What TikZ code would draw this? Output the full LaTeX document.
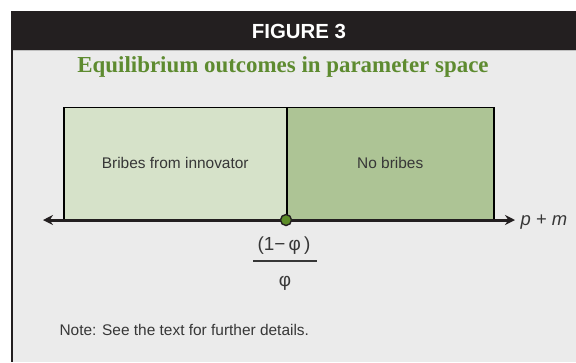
\documentclass[tikz,border=0pt]{standalone}
\usepackage{fontspec}
\setmainfont{Liberation Serif}
\setsansfont{Liberation Sans}
\usetikzlibrary{arrows.meta}

\definecolor{panelgrey}{RGB}{235,235,235}
\definecolor{headerdark}{RGB}{35,31,32}
\definecolor{titlegreen}{RGB}{94,139,48}
\definecolor{paleregion}{RGB}{214,226,201}
\definecolor{deepregion}{RGB}{173,196,149}
\definecolor{dotgreen}{RGB}{92,140,40}
\definecolor{bodytext}{RGB}{55,55,55}

\tikzset{
  region/.style={draw=black, line width=1.5bp, inner sep=0pt,
    anchor=south west, minimum height=112bp,
    font=\sffamily\fontsize{15.5}{15.5}\selectfont, text=bodytext},
  axisline/.style={line width=3bp, draw=headerdark,
    {Stealth[length=10bp,width=10bp]}-{Stealth[length=10bp,width=10bp]}},
  bodylabel/.style={font=\sffamily\fontsize{19}{19}\selectfont, text=bodytext, inner sep=0pt},
}

\begin{document}
\begin{tikzpicture}[x=1bp,y=-1bp]
\useasboundingbox (0,0) rectangle (576,362);
\fill[white] (0,0) rectangle (576,362);

% panel and header band
\fill[panelgrey] (11,50) rectangle (576,362);
\fill[headerdark] (11,11) rectangle (576,50);
\draw[line width=0.6bp, black!25] (13,50.5) -- (576,50.5);
\draw[line width=2.2bp, headerdark] (12,50) -- (12,362);

\node[font=\sffamily\bfseries\fontsize{20.5}{20.5}\selectfont, text=white] (fig) at (299,31) {FIGURE 3};
\node[font=\rmfamily\bfseries\fontsize{23}{23}\selectfont, text=titlegreen] (title) at (283,67) {Equilibrium outcomes in parameter space};

% the two regions of parameter space
\node[region, fill=paleregion, minimum width=223bp] (bribes) at (63,220) {Bribes from innovator};
\node[region, fill=deepregion, minimum width=207bp] (nobribes) at (286,220) {No bribes};

% horizontal axis with arrowheads at both ends
\coordinate (axL) at (43,220);
\coordinate (axR) at (515,220);
\draw[axisline] (axL) -- (axR);

% threshold point
\node[circle, fill=dotgreen, draw=headerdark, line width=1.4bp, minimum size=11bp, inner sep=0pt] (thr) at (286,220) {};

\node[anchor=west, font=\sffamily\itshape\fontsize{18.5}{18.5}\selectfont, text=bodytext] (pm) at (517,222) {p + m};

% threshold value (1 - phi)/phi
\node[bodylabel] (num) at (284,246) {(1−\,φ\,)};
\coordinate (barL) at (253,261);
\coordinate (barR) at (317,261);
\draw[line width=1.4bp, bodytext] (barL) -- (barR);
\node[bodylabel] (den) at (285,283) {φ};

\node[anchor=west, font=\sffamily\fontsize{15.5}{15.5}\selectfont, text=bodytext] (note) at (56,330) {Note: See the text for further details.};
\end{tikzpicture}
\end{document}
